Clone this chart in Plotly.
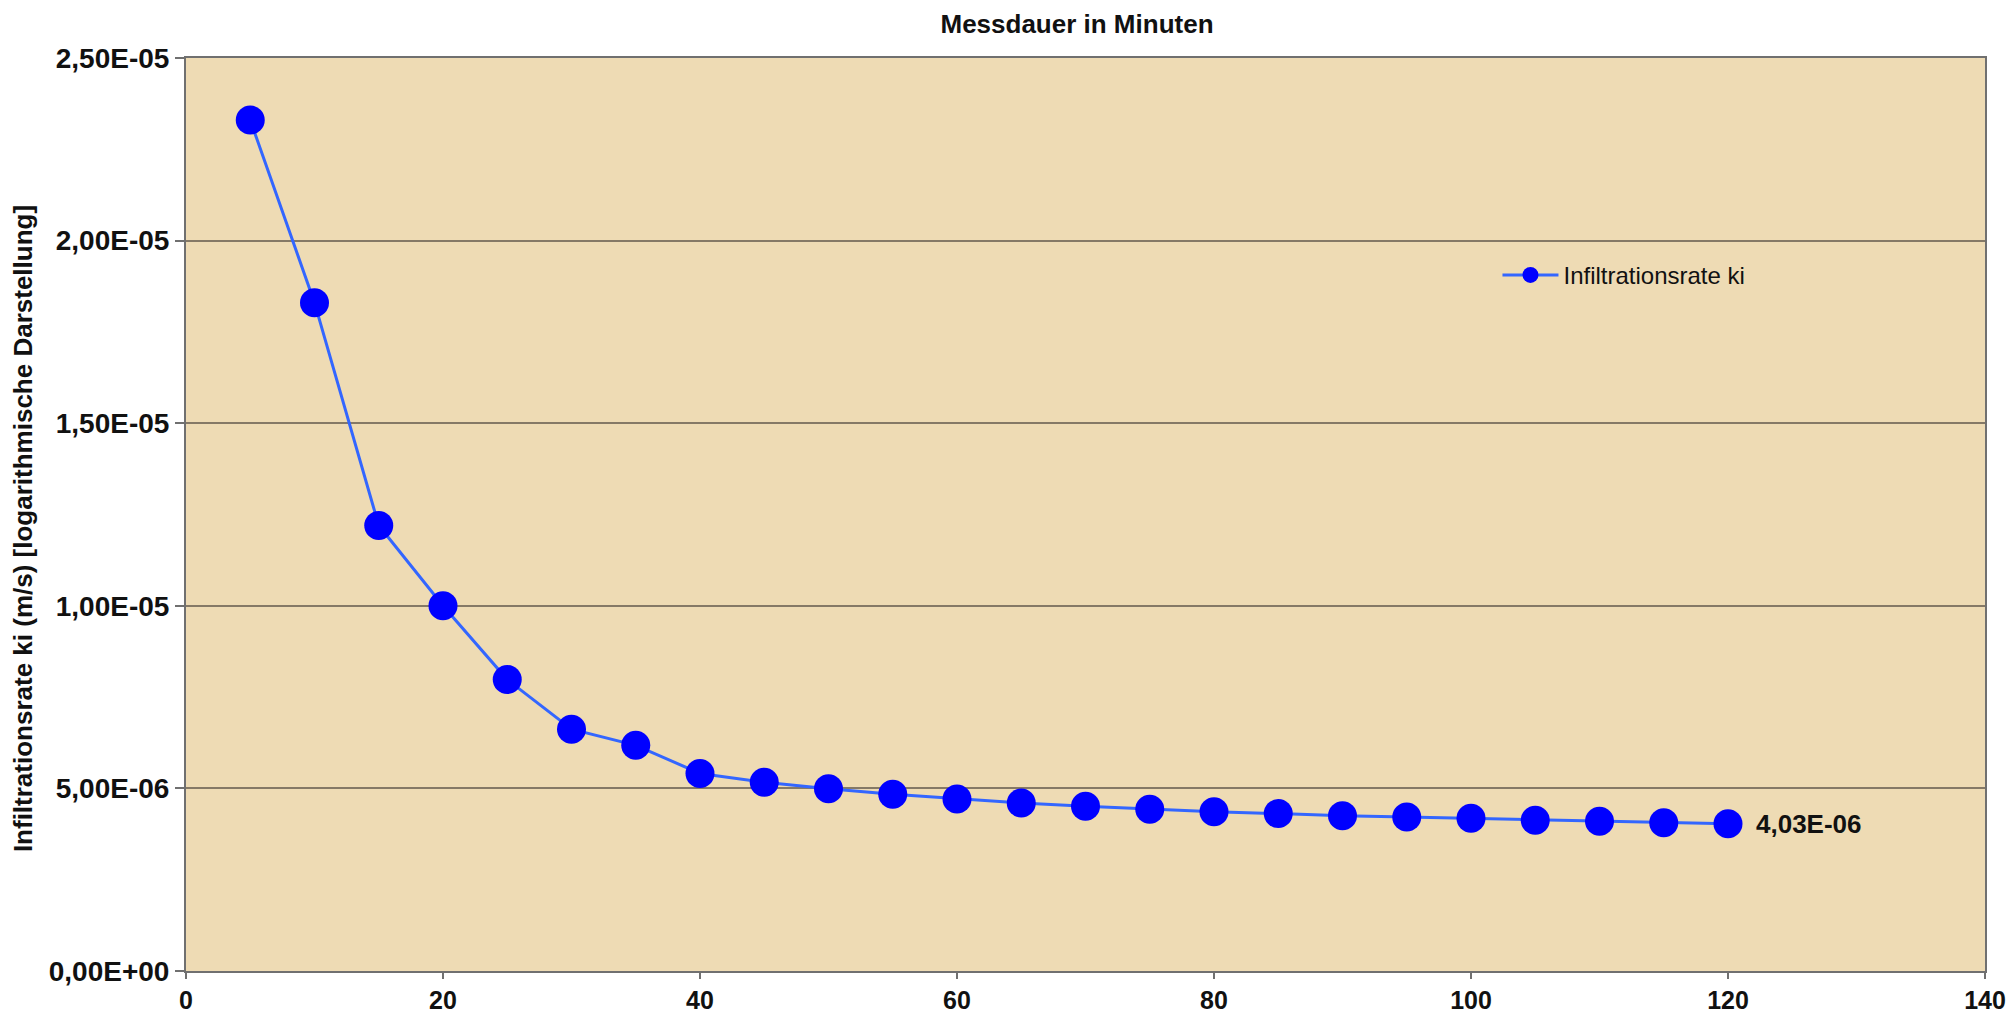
import plotly.graph_objects as go

# Data
minutes = [5, 10, 15, 20, 25, 30, 35, 40, 45, 50, 55, 60, 65, 70, 75, 80,
           85, 90, 95, 100, 105, 110, 115, 120]
rate = [2.33e-5, 1.83e-5, 1.22e-5, 1.00e-5, 7.98e-6, 6.62e-6, 6.18e-6,
        5.41e-6, 5.17e-6, 4.99e-6, 4.84e-6, 4.71e-6, 4.60e-6, 4.51e-6,
        4.43e-6, 4.36e-6, 4.31e-6, 4.25e-6, 4.22e-6, 4.18e-6, 4.13e-6,
        4.10e-6, 4.06e-6, 4.03e-6]
y_tickvals = [0, 5e-6, 1e-5, 1.5e-5, 2e-5, 2.5e-5]
y_ticktext = ["0,00E+00", "5,00E-06", "1,00E-05", "1,50E-05", "2,00E-05", "2,50E-05"]
x_tickvals = [0, 20, 40, 60, 80, 100, 120, 140]
last_label = "4,03E-06"

FONT = "Liberation Sans, Arial, sans-serif"
INK = "#111111"

fig = go.Figure()
fig.add_trace(go.Scatter(
    x=minutes, y=rate, mode="lines+markers", name="Infiltrationsrate ki",
    line=dict(color="#3366FF", width=3),
    marker=dict(color="#0000FF", size=29, line=dict(width=0)),
))

fig.add_annotation(
    x=minutes[-1], y=rate[-1], text="<b>" + last_label + "</b>",
    showarrow=False, xanchor="left", yanchor="middle", xshift=26,
    font=dict(family=FONT, size=26, color=INK),
)

# y-axis title as rotated annotation (placed like the original)
fig.add_annotation(
    xref="paper", yref="paper", x=-0.0906, y=0.484,
    text="<b>Infiltrationsrate ki (m/s) [logarithmische Darstellung]</b>",
    textangle=-90, showarrow=False, xanchor="center", yanchor="middle",
    font=dict(family=FONT, size=26, color=INK),
)

fig.update_layout(
    width=2012, height=1018,
    margin=dict(l=186, r=27, t=58, b=47, autoexpand=False),
    paper_bgcolor="white",
    plot_bgcolor="#EEDBB4",
    title=dict(text="<b>Messdauer in Minuten</b>", x=1077 / 2012,
               xanchor="center", y=1 - 24 / 1018, yanchor="middle",
               font=dict(family=FONT, size=26, color=INK), automargin=False),
    showlegend=True,
    legend=dict(x=0.729, y=0.762, xanchor="left", yanchor="middle",
                bgcolor="rgba(0,0,0,0)", font=dict(family=FONT, size=24, color=INK),
                itemwidth=56),
    font=dict(family=FONT, color=INK),
)

fig.update_xaxes(
    range=[0, 140], tickvals=x_tickvals, showgrid=False, zeroline=False,
    automargin=False,
    showline=True, linecolor="#707070", linewidth=2, mirror=True,
    ticks="outside", ticklen=6, tickwidth=2, tickcolor="#707070",
    ticklabelstandoff=0,
    tickfont=dict(family=FONT, size=25, color=INK, weight="bold"),
)
fig.update_yaxes(
    range=[0, 2.5e-5], tickvals=y_tickvals, ticktext=y_ticktext,
    showgrid=True, gridcolor="#857966", gridwidth=1.5, zeroline=False,
    automargin=False,
    showline=True, linecolor="#707070", linewidth=2, mirror=True,
    ticks="outside", ticklen=9, tickwidth=2, tickcolor="#707070",
    tickfont=dict(family=FONT, size=28, color=INK, weight="bold"),
)

fig.write_html("out.html", config={"displayModeBar": False},
               post_script="document.body.style.margin='0';")
